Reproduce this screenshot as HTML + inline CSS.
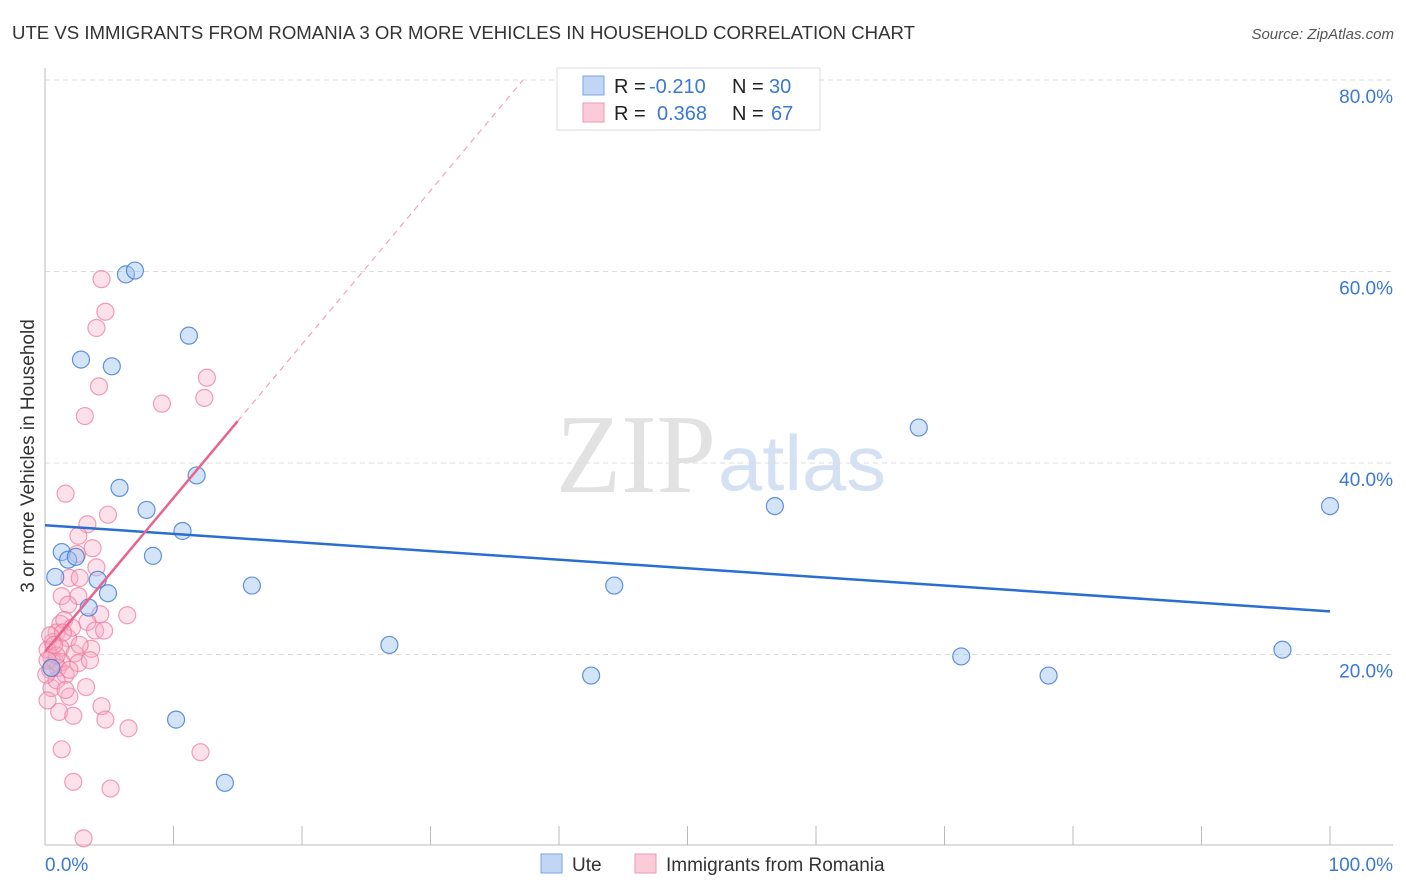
<!DOCTYPE html>
<html><head><meta charset="utf-8">
<style>
body{margin:0;background:#fff;font-family:"Liberation Sans",sans-serif;}
#wrap{position:relative;width:1406px;height:892px;overflow:hidden;}
</style></head>
<body>
<div id="wrap">
<svg id="chart" width="1406" height="892">
<text x="12" y="39" font-size="18" fill="#333" textLength="903" lengthAdjust="spacingAndGlyphs">UTE VS IMMIGRANTS FROM ROMANIA 3 OR MORE VEHICLES IN HOUSEHOLD CORRELATION CHART</text>
<text x="1394" y="39" font-size="15" fill="#555" font-style="italic" text-anchor="end">Source: ZipAtlas.com</text>
<text x="716" y="492" font-size="112" fill="#e2e2e2" font-family="Liberation Serif, serif" text-anchor="end" textLength="160" lengthAdjust="spacingAndGlyphs">ZIP</text>
<text x="718" y="490" font-size="78" fill="#d3e1f3" textLength="168" lengthAdjust="spacingAndGlyphs">atlas</text>
<text transform="translate(34,456) rotate(-90)" font-size="19" fill="#333" text-anchor="middle">3 or more Vehicles in Household</text>
<g id="grid"></g><g id="marks"></g>
<g>
<rect x="557" y="68" width="263" height="62" fill="#fff" stroke="#ddd"/>
<rect x="583" y="76" width="21" height="19" fill="#c1d6f4" stroke="#7aa4e0"/>
<rect x="583" y="103" width="21" height="19" fill="#fbcbd9" stroke="#ef9ab4"/>
<text x="614" y="93" font-size="20" fill="#222">R = <tspan x="649" fill="#3a78d4">-0.210</tspan><tspan x="732">N = </tspan><tspan x="769" fill="#3a78d4">30</tspan></text>
<text x="614" y="120" font-size="20" fill="#222">R = <tspan x="657" fill="#3a78d4">0.368</tspan><tspan x="732">N = </tspan><tspan x="771" fill="#3a78d4">67</tspan></text>
</g>
<g>
<rect x="541" y="854" width="21" height="19" fill="#c1d6f4" stroke="#7aa4e0"/>
<text x="572" y="871" font-size="19" fill="#333">Ute</text>
<rect x="635" y="854" width="21" height="19" fill="#fbcbd9" stroke="#ef9ab4"/>
<text x="666" y="871" font-size="19" fill="#333">Immigrants from Romania</text>
</g>
</svg>
</div>
<script>
const yTicks=[20,40,60,80];
const yTickLabels=["20.0%","40.0%","60.0%","80.0%"];
const xTickLabels=["0.0%","100.0%"];
const uteX=[6.3,7.0,11.2,2.8,5.2,68.0,11.8,5.8,7.9,56.8,100,10.7,1.3,8.4,1.8,2.4,0.8,4.1,4.9,16.1,44.3,3.4,26.8,42.5,71.3,78.1,96.3,10.2,14.0,0.5];
const uteY=[59.7,60.1,53.3,50.8,50.1,43.7,38.7,37.4,35.1,35.5,35.5,32.9,30.7,30.3,29.9,30.2,28.1,27.8,26.4,27.2,27.2,24.9,21.0,17.8,19.8,17.8,20.5,13.2,6.6,18.6];
const roX=[4.4,4.7,4.0,4.2,3.1,9.1,12.6,12.4,1.6,4.9,3.3,2.6,3.7,2.5,4.0,1.9,2.7,1.3,2.6,1.8,4.3,6.4,3.3,1.2,3.9,4.6,0.9,1.8,0.6,1.2,3.6,2.3,0.2,0.5,0.8,1.3,2.6,0.4,1.0,1.6,3.2,0.5,0.9,1.9,1.1,2.2,4.4,4.7,6.5,1.3,12.1,2.2,5.1,3.0,0.2,0.4,1.5,2.1,0.1,0.9,1.6,2.7,3.5,1.9,1.4,0.2,0.7];
const roY=[59.2,55.8,54.1,48.0,44.9,46.2,48.9,46.8,36.8,34.6,33.6,32.4,31.1,30.5,29.1,28.0,28.0,26.1,26.1,25.2,24.2,24.1,23.4,23.2,22.5,22.5,22.3,21.7,21.3,20.7,20.6,20.1,20.5,19.7,19.2,19.2,19.1,18.4,18.6,17.9,16.6,16.5,17.3,15.6,14.0,13.6,14.6,13.2,12.3,10.1,9.8,6.7,6.0,0.8,15.2,22.0,23.6,22.8,17.9,19.9,16.3,21.0,19.4,18.4,22.3,19.4,21.0];
const uteTrend=[33.5,24.5];
const roTrend=[20.3,1.605];
const X=v=>45+v*12.85, Y=v=>846-v*9.575;
const NS="http://www.w3.org/2000/svg";
const grid=document.getElementById('grid'), marks=document.getElementById('marks');
function mk(p,tag,at){const e=document.createElementNS(NS,tag);for(const k in at)e.setAttribute(k,at[k]);p.appendChild(e);return e;}
yTicks.forEach((t,i)=>{
 const l=mk(grid,'line',{x1:45,x2:1393,y1:Y(t),y2:Y(t),stroke:'#ddd','stroke-dasharray':'5,4'});
 
 
 const tx=mk(grid,'text',{x:1393,y:Y(t)+23,'font-size':19,fill:'#3a78d4','text-anchor':'end'});tx.textContent=yTickLabels[i];
 
 
});
mk(grid,'line',{x1:45,x2:45,y1:68,y2:845,stroke:'#bbb'});
mk(grid,'line',{x1:45,x2:1393,y1:845,y2:845,stroke:'#bbb'});
for(let i=1;i<=10;i++){const t=mk(grid,'line',{x1:X(i*10),x2:X(i*10),y1:826,y2:845,stroke:'#bbb'});
 
 }
[[0,'start',45],[1,'end',1393]].forEach(([i,a,x])=>{const t=mk(grid,'text',{x:x,y:871,'font-size':19,fill:'#3a78d4','text-anchor':a});t.textContent=xTickLabels[i];
 
 });
roX.forEach((x,i)=>{const c=mk(marks,'circle',{cx:X(x),cy:Y(roY[i]),r:8.5,fill:'rgba(248,170,195,0.35)',stroke:'rgba(235,120,155,0.7)','stroke-width':1.2});
 
 });
uteX.forEach((x,i)=>{const c=mk(marks,'circle',{cx:X(x),cy:Y(uteY[i]),r:8.5,fill:'rgba(160,195,240,0.45)',stroke:'rgba(60,120,210,0.8)','stroke-width':1.2});
 
 });
const ut=mk(marks,'line',{x1:X(0),y1:Y(uteTrend[0]),x2:X(100),y2:Y(uteTrend[1]),stroke:'#2a6fd0','stroke-width':2.5});


const rf=x=>roTrend[0]+roTrend[1]*x;
const rs=mk(marks,'line',{x1:X(0),y1:Y(rf(0)),x2:X(15),y2:Y(rf(15)),stroke:'#e8648e','stroke-width':2.5});


const xe=(80-roTrend[0])/roTrend[1];
const rd=mk(marks,'line',{x1:X(15),y1:Y(rf(15)),x2:X(xe),y2:Y(80),stroke:'#f0a5bd','stroke-width':1.2,'stroke-dasharray':'6,5'});


</script>
</body></html>
